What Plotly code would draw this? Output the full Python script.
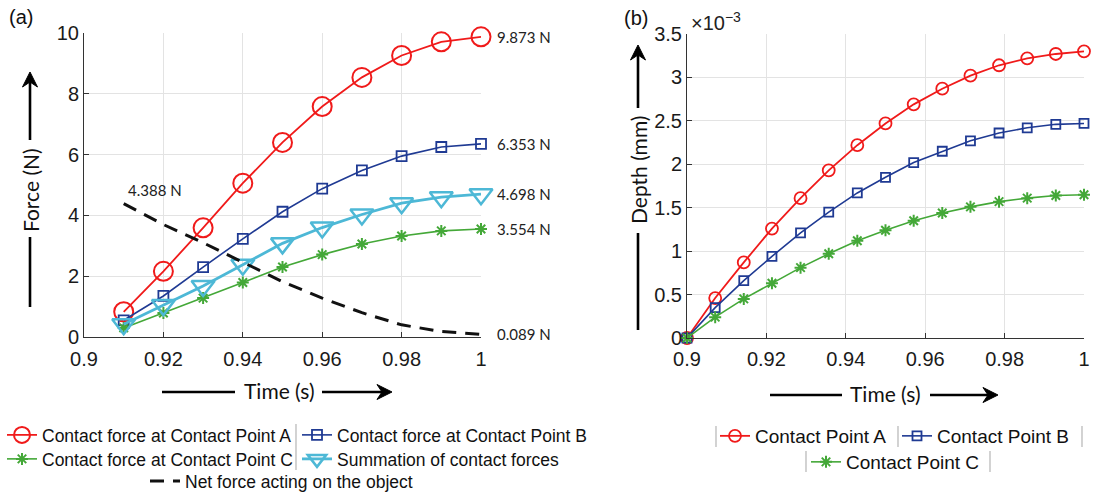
import plotly.graph_objects as go

W, H = 1097, 493


def px(x):
    return x / W


def py(y):
    return 1 - y / H


# ---------------- data (a) ----------------
time_a = [0.91, 0.92, 0.93, 0.94, 0.95, 0.96, 0.97, 0.98, 0.99, 1.0]
force_a = [0.83, 2.16, 3.59, 5.06, 6.40, 7.58, 8.54, 9.26, 9.71, 9.873]
force_b = [0.55, 1.35, 2.30, 3.23, 4.12, 4.88, 5.48, 5.95, 6.25, 6.353]
force_c = [0.30, 0.79, 1.28, 1.79, 2.30, 2.71, 3.06, 3.32, 3.49, 3.554]
force_sum = [0.42, 1.05, 1.68, 2.38, 3.08, 3.60, 4.03, 4.40, 4.60, 4.698]
force_net = [4.388, 3.70, 3.10, 2.45, 1.82, 1.28, 0.80, 0.40, 0.18, 0.089]

end_labels = ["9.873 N", "6.353 N", "4.698 N", "3.554 N", "0.089 N"]
start_label = "4.388 N"

# ---------------- data (b) (depth in x10^-3 mm) ----------------
time_b = [0.9, 0.9071, 0.9143, 0.9214, 0.9286, 0.9357, 0.9429, 0.95,
          0.9571, 0.9643, 0.9714, 0.9786, 0.9857, 0.9929, 1.0]
depth_a = [0, 0.46, 0.87, 1.26, 1.61, 1.93, 2.22, 2.47, 2.69, 2.87, 3.02, 3.14, 3.22, 3.27, 3.30]
depth_b = [0, 0.35, 0.66, 0.94, 1.21, 1.45, 1.67, 1.85, 2.02, 2.15, 2.27, 2.36, 2.42, 2.46, 2.47]
depth_c = [0, 0.24, 0.45, 0.63, 0.81, 0.97, 1.12, 1.24, 1.35, 1.44, 1.51, 1.57, 1.61, 1.64, 1.65]

x_ticks = [0.9, 0.92, 0.94, 0.96, 0.98, 1.0]
x_ticktext = ["0.9", "0.92", "0.94", "0.96", "0.98", "1"]
ya_ticks = [0, 2, 4, 6, 8, 10]
yb_ticks = [0, 0.5, 1, 1.5, 2, 2.5, 3, 3.5]
yb_ticktext = ["0", "0.5", "1", "1.5", "2", "2.5", "3", "3.5"]

RED = "#f01a1a"
BLUE = "#1f3a93"
GREEN = "#44a838"
CYAN = "#4db8d6"

TICKFONT = dict(family="Liberation Sans, Arial, sans-serif", size=20, color="#1a1a1a")
TITLEFONT = dict(family="Lato, sans-serif", size=21, color="#111111")
LEGFONT_A = dict(family="Liberation Sans, Arial, sans-serif", size=17.5, color="#111111")
LEGFONT_B = dict(family="Liberation Sans, Arial, sans-serif", size=19, color="#111111")

fig = go.Figure()

# ---- panel (a)
fig.add_trace(go.Scatter(x=time_a, y=force_a, mode="lines+markers", name="Contact force at Contact Point A",
                         line=dict(color=RED, width=1.8),
                         marker=dict(symbol="circle-open", size=19, color=RED, line=dict(width=2, color=RED)),
                         xaxis="x", yaxis="y", cliponaxis=False, legend="legend"))
fig.add_trace(go.Scatter(x=time_a, y=force_b, mode="lines+markers", name="Contact force at Contact Point B",
                         line=dict(color=BLUE, width=1.6),
                         marker=dict(symbol="square-open", size=10, color=BLUE, line=dict(width=1.8, color=BLUE)),
                         xaxis="x", yaxis="y", cliponaxis=False, legend="legend"))
fig.add_trace(go.Scatter(x=time_a, y=force_c, mode="lines+markers", name="Contact force at Contact Point C",
                         line=dict(color=GREEN, width=1.6),
                         marker=dict(symbol="asterisk-open", size=10, color=GREEN, line=dict(width=2, color=GREEN)),
                         xaxis="x", yaxis="y", cliponaxis=False, legend="legend2"))
fig.add_trace(go.Scatter(x=time_a, y=force_sum, mode="lines+markers", name="Summation of contact forces",
                         line=dict(color=CYAN, width=2.8),
                         marker=dict(symbol="triangle-down-open", size=20, color=CYAN, line=dict(width=2.5, color=CYAN)),
                         xaxis="x", yaxis="y", cliponaxis=False, legend="legend2"))
fig.add_trace(go.Scatter(x=time_a, y=force_net, mode="lines", name="Net force acting on the object",
                         line=dict(color="#111111", width=3, dash="14px,9px"),
                         xaxis="x", yaxis="y", cliponaxis=False, legend="legend3"))

# ---- panel (b)
fig.add_trace(go.Scatter(x=time_b, y=depth_a, mode="lines+markers", name="Contact Point A",
                         line=dict(color=RED, width=1.8),
                         marker=dict(symbol="circle-open", size=12, color=RED, line=dict(width=1.8, color=RED)),
                         xaxis="x2", yaxis="y2", cliponaxis=False, legend="legend4"))
fig.add_trace(go.Scatter(x=time_b, y=depth_b, mode="lines+markers", name="Contact Point B",
                         line=dict(color=BLUE, width=1.6),
                         marker=dict(symbol="square-open", size=9, color=BLUE, line=dict(width=1.8, color=BLUE)),
                         xaxis="x2", yaxis="y2", cliponaxis=False, legend="legend4"))
fig.add_trace(go.Scatter(x=time_b, y=depth_c, mode="lines+markers", name="Contact Point C",
                         line=dict(color=GREEN, width=1.6),
                         marker=dict(symbol="asterisk-open", size=10, color=GREEN, line=dict(width=2, color=GREEN)),
                         xaxis="x2", yaxis="y2", cliponaxis=False, legend="legend5"))

axis_common = dict(showgrid=True, gridcolor="#e3e3e3", gridwidth=1, zeroline=False,
                   showline=True, linecolor="#333333", linewidth=1, automargin=False,
                   ticks="inside", ticklen=5, tickcolor="#333333", tickfont=TICKFONT)


def leg(x, y, font, entrywidth=None):
    d = dict(orientation="h", x=px(x), y=py(y), xref="container", yref="container",
             xanchor="left", yanchor="middle", font=font, bgcolor="rgba(0,0,0,0)",
             itemsizing="trace")
    if entrywidth:
        d["entrywidth"] = entrywidth
    return d


fig.update_layout(
    width=W, height=H,
    margin=dict(l=0, r=0, t=0, b=0, autoexpand=False),
    paper_bgcolor="white", plot_bgcolor="white",
    xaxis=dict(domain=[px(84), px(481)], range=[0.9, 1.0], tickvals=x_ticks, ticktext=x_ticktext,
               anchor="y", ticklabelstandoff=4, **axis_common),
    yaxis=dict(domain=[py(337), py(33)], range=[0, 10], tickvals=ya_ticks, anchor="x", **axis_common),
    xaxis2=dict(domain=[px(687), px(1084)], range=[0.9, 1.0], tickvals=x_ticks, ticktext=x_ticktext,
                anchor="y2", ticklabelstandoff=3, **axis_common),
    yaxis2=dict(domain=[py(338), py(34)], range=[0, 3.5], tickvals=yb_ticks, ticktext=yb_ticktext,
                anchor="x2", **axis_common),
    legend=leg(2, 435, LEGFONT_A, 250),
    legend2=leg(2, 459, LEGFONT_A, 250),
    legend3=leg(145, 481, LEGFONT_A),
    legend4=leg(715, 436, LEGFONT_B, 137),
    legend5=leg(806, 462, LEGFONT_B),
)

annotations = []
shapes = []

# end-value labels in panel (a)
for yv, txt in zip([force_a[-1], force_b[-1], force_sum[-1], force_c[-1], force_net[-1]], end_labels):
    annotations.append(dict(x=time_a[-1], y=yv, xref="x", yref="y", text=txt, showarrow=False,
                            xanchor="left", xshift=14, font=dict(family="Lato, sans-serif", size=15, color="#222")))
annotations.append(dict(x=time_a[0], y=force_net[0], xref="x", yref="y", text=start_label, showarrow=False,
                        xanchor="left", yanchor="bottom", xshift=2, yshift=3,
                        font=dict(family="Lato, sans-serif", size=15, color="#222")))

# panel letters and exponent
annotations.append(dict(x=px(7), y=py(17), xref="paper", yref="paper", text="(a)", showarrow=False,
                        xanchor="left", yanchor="middle", font=dict(family="Liberation Sans, Arial", size=20, color="#111")))
annotations.append(dict(x=px(622), y=py(18), xref="paper", yref="paper", text="(b)", showarrow=False,
                        xanchor="left", yanchor="middle", font=dict(family="Liberation Sans, Arial", size=20, color="#111")))
annotations.append(dict(x=px(689), y=py(22), xref="paper", yref="paper", text="×10<sup>−3</sup>", showarrow=False,
                        xanchor="left", yanchor="middle", font=dict(family="Liberation Sans, Arial", size=20, color="#222")))


def arrow_path(points):
    return "M " + " L ".join(f"{px(a):.5f},{py(b):.5f}" for a, b in points) + " Z"


def axis_title(text, cx, cy, vertical, line_from, line_to, arrow_tail, arrow_tip):
    annotations.append(dict(x=px(cx), y=py(cy), xref="paper", yref="paper", text=text, showarrow=False,
                            textangle=-90 if vertical else 0, xanchor="center", yanchor="middle",
                            font=TITLEFONT))
    lw = dict(color="black", width=2.6)
    if vertical:
        shapes.append(dict(type="line", xref="paper", yref="paper", x0=px(cx), x1=px(cx),
                           y0=py(line_from), y1=py(line_to), line=lw))
        shapes.append(dict(type="line", xref="paper", yref="paper", x0=px(cx), x1=px(cx),
                           y0=py(arrow_tail), y1=py(arrow_tip + 8), line=lw))
        pts = [(cx, arrow_tip), (cx - 7.5, arrow_tip + 15), (cx, arrow_tip + 10), (cx + 7.5, arrow_tip + 15)]
    else:
        ly = cy + 2
        shapes.append(dict(type="line", xref="paper", yref="paper", x0=px(line_from), x1=px(line_to),
                           y0=py(ly), y1=py(ly), line=lw))
        shapes.append(dict(type="line", xref="paper", yref="paper", x0=px(arrow_tail), x1=px(arrow_tip - 8),
                           y0=py(ly), y1=py(ly), line=lw))
        pts = [(arrow_tip, ly), (arrow_tip - 15, ly - 7.5), (arrow_tip - 10, ly), (arrow_tip - 15, ly + 7.5)]
    shapes.append(dict(type="path", xref="paper", yref="paper", path=arrow_path(pts),
                       fillcolor="black", line=dict(color="black", width=1)))


axis_title("Force (N)", 30, 190, True, 307, 237, 140, 72)
axis_title("Time (s)", 279, 390, False, 162, 235, 322, 392)
axis_title("Depth (mm)", 638, 170, True, 330, 233, 108, 45)
axis_title("Time (s)", 885, 393, False, 770, 842, 930, 998)

# legend separators
sep_color = "#b5b5b5"
for (x, y0, y1) in [(296, 424, 470), (716, 426, 447), (898, 426, 447), (1082, 426, 447),
                    (806, 451, 472), (990, 451, 472)]:
    shapes.append(dict(type="line", xref="paper", yref="paper", x0=px(x), x1=px(x), y0=py(y0), y1=py(y1),
                       line=dict(color=sep_color, width=1.2)))

fig.update_layout(annotations=annotations, shapes=shapes)

fig.write_html("out.html")
